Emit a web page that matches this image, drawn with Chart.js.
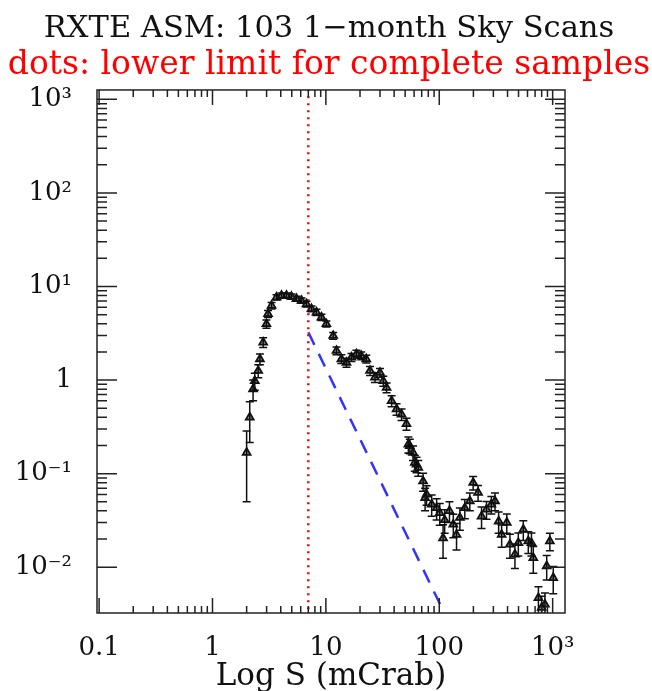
<!DOCTYPE html>
<html>
<head>
<meta charset="utf-8">
<title>RXTE ASM: 103 1-month Sky Scans</title>
<script src="https://cdn.jsdelivr.net/npm/chart.js@4.4.0/dist/chart.umd.min.js"></script>
<style>
  html, body { margin: 0; padding: 0; background: #fff; }
  #wrap { width: 652px; height: 691px; }
</style>
</head>
<body>
<div id="wrap"><canvas id="chart1"></canvas></div>
<script>
// flux bins (mCrab), source counts and 1-sigma errors
var fluxS = [2.0, 2.13, 2.28, 2.36, 2.53, 2.62, 2.80, 2.99, 3.09, 3.32,
             3.67, 4.06, 4.49, 4.97, 5.5, 6.1, 6.75, 7.47, 8.26, 9.14,
             10.1, 11.6, 12.4, 13.7, 15.2, 16.8, 18.6, 20.5, 22.7, 24.5,
             27.1, 30, 32.1, 34.3, 38, 42, 46.5, 51.4, 53.4, 55,
             58.7, 60.8, 63, 65.3, 72, 75, 77.3, 85.7, 94.8, 101,
             108, 111.6, 123, 133, 142, 152, 168, 186, 199, 220,
             236, 261, 288, 310, 334, 355, 394, 420, 465, 498,
             551, 610, 650, 675, 749, 800, 855, 886, 945, 1012];
var countsN = [0.168, 0.40, 0.80, 0.98, 1.26, 1.68, 2.53, 3.98, 5.1, 6.25,
               7.66, 8.0, 8.0, 7.8, 7.4, 7.07, 6.5, 5.77, 5.3, 4.69,
               3.98, 2.98, 2.06, 1.68, 1.54, 1.75, 1.9, 1.82, 1.68, 1.26,
               1.07, 1.2, 0.98, 0.83, 0.60, 0.49, 0.43, 0.34, 0.206, 0.198,
               0.168, 0.131, 0.126, 0.116, 0.083, 0.055, 0.060, 0.047, 0.043, 0.038,
               0.0205, 0.032, 0.040, 0.0287, 0.0223, 0.0338, 0.043, 0.051, 0.080, 0.0626,
               0.035, 0.0415, 0.047, 0.051, 0.031, 0.0223, 0.030, 0.0175, 0.0137, 0.0182,
               0.0253, 0.019, 0.0182, 0.0126, 0.0047, 0.0037, 0.0040, 0.0103, 0.019, 0.0077];
var countsErr = [0.118, 0.185, 0.20, 0.20, 0.20, 0.22, 0.30, 0.40, 0.45, 0.50,
                 0.50, 0.50, 0.50, 0.50, 0.45, 0.45, 0.45, 0.40, 0.40, 0.35,
                 0.30, 0.25, 0.20, 0.18, 0.17, 0.17, 0.18, 0.17, 0.16, 0.14,
                 0.13, 0.13, 0.12, 0.10, 0.08, 0.07, 0.06, 0.05, 0.04, 0.035,
                 0.03, 0.025, 0.024, 0.022, 0.018, 0.015, 0.014, 0.012, 0.011, 0.010,
                 0.008, 0.009, 0.010, 0.008, 0.007, 0.009, 0.010, 0.011, 0.013, 0.012,
                 0.009, 0.009, 0.010, 0.011, 0.008, 0.006, 0.007, 0.005, 0.004, 0.005,
                 0.006, 0.005, 0.005, 0.004, 0.0015, 0.0012, 0.0013, 0.003, 0.004, 0.0025];

// completeness limit (dotted) and S^-2.5 reference line (dashed)
var limitS = [7, 7];
var limitN = [0.003, 1300];
var slopeS = [7, 110];
var slopeN = [3.24, 0.0033];

var xTickVals = [0.1, 1, 10, 100, 1000];
var xTickLabels = ['0.1', '1', '10', '100', '10³'];
var yTickVals = [1000, 100, 10, 1, 0.1, 0.01];
var yTickLabels = ['10³', '10²', '10¹', '1', '10⁻¹', '10⁻²'];

function toPoints(xs, ys) {
    return xs.map(function(v, i) { return { x: v, y: ys[i] }; });
}

var serif = 'DejaVu Serif';

// error bars, drawn through the chart scales
var errorBars = {
    id: 'errorBars',
    beforeDatasetsDraw: function(chart) {
        var ctx = chart.ctx, xs = chart.scales.x, ys = chart.scales.y, a = chart.chartArea;
        ctx.save();
        ctx.beginPath();
        ctx.rect(a.left, a.top, a.right - a.left, a.bottom - a.top);
        ctx.clip();
        ctx.strokeStyle = '#111';
        ctx.lineWidth = 1.5;
        for (var i = 0; i < fluxS.length; i++) {
            var px = xs.getPixelForValue(fluxS[i]);
            var lo = countsN[i] - countsErr[i];
            var top = ys.getPixelForValue(countsN[i] + countsErr[i]);
            var bot = lo > 0 ? ys.getPixelForValue(lo) : a.bottom + 10;
            ctx.beginPath();
            ctx.moveTo(px, top); ctx.lineTo(px, bot);
            ctx.moveTo(px - 4, top); ctx.lineTo(px + 4, top);
            ctx.moveTo(px - 4, bot); ctx.lineTo(px + 4, bot);
            ctx.stroke();
        }
        ctx.restore();
    }
};

// box frame with inward ticks on all four sides
var frame = {
    id: 'frame',
    afterDraw: function(chart) {
        var ctx = chart.ctx, xs = chart.scales.x, ys = chart.scales.y, a = chart.chartArea;
        ctx.save();
        ctx.strokeStyle = '#222';
        ctx.lineWidth = 1.5;
        ctx.strokeRect(a.left, a.top, a.right - a.left, a.bottom - a.top);
        ctx.beginPath();
        for (var e = -2; e <= 3; e++) {
            for (var m = 1; m <= 9; m++) {
                var v = m * Math.pow(10, e);
                var px = xs.getPixelForValue(v);
                if (px > a.left + 0.5 && px < a.right - 0.5) {
                    var lx = m == 1 ? 15 : 7;
                    ctx.moveTo(px, a.bottom); ctx.lineTo(px, a.bottom - lx);
                    ctx.moveTo(px, a.top); ctx.lineTo(px, a.top + lx);
                }
                var py = ys.getPixelForValue(v);
                if (py > a.top + 0.5 && py < a.bottom - 0.5) {
                    var ly = m == 1 ? 20 : 10;
                    ctx.moveTo(a.left, py); ctx.lineTo(a.left + ly, py);
                    ctx.moveTo(a.right, py); ctx.lineTo(a.right - ly, py);
                }
            }
        }
        ctx.stroke();
        ctx.restore();
    }
};

var ctx = document.getElementById('chart1').getContext('2d');
var myChart = new Chart(ctx, {
    type: 'scatter',
    data: {
        datasets: [{
            label: 'counts',
            data: toPoints(fluxS, countsN),
            pointStyle: 'triangle',
            pointRadius: 4.5,
            borderWidth: 1.8,
            borderColor: '#111',
            backgroundColor: 'rgba(0,0,0,0.45)'
        },
        {
            label: 'limit',
            data: toPoints(limitS, limitN),
            showLine: true,
            borderColor: '#ff0000',
            borderWidth: 2.5,
            borderDash: [2, 5],
            pointRadius: 0
        },
        {
            label: 'slope',
            data: toPoints(slopeS, slopeN),
            showLine: true,
            borderColor: '#3333ff',
            borderWidth: 2.5,
            borderDash: [14, 10],
            pointRadius: 0
        }]
    },
    options: {
        responsive: true,
        maintainAspectRatio: false,
        animation: false,
        layout: {
            padding: { left: 6, right: 0, top: 0, bottom: 0 }
        },
        plugins: {
            legend: { display: false },
            tooltip: { enabled: false },
            title: {
                display: true,
                text: 'RXTE ASM: 103 1\u2212month Sky Scans',
                color: '#111',
                font: { family: serif, size: 30.5, weight: 'normal', lineHeight: 1.15 },
                padding: { top: 12, bottom: 0 }
            },
            subtitle: {
                display: true,
                text: 'dots: lower limit for complete samples',
                color: '#ff0000',
                font: { family: serif, size: 33, weight: 'normal', lineHeight: 1.1 },
                padding: { top: 0, bottom: 6.6 }
            }
        },
        scales: {
            x: {
                type: 'logarithmic',
                min: 0.0958,
                max: 1285,
                grid: { display: false },
                border: { display: false },
                afterBuildTicks: function(scale) {
                    scale.ticks = xTickVals.map(function(v) { return { value: v }; });
                },
                afterFit: function(scale) { scale.height = 78; },
                ticks: {
                    autoSkip: false,
                    maxRotation: 0,
                    padding: 12,
                    color: '#111',
                    font: { family: serif, size: 26 },
                    callback: function(value, index) { return xTickLabels[index]; }
                },
                title: {
                    display: true,
                    text: 'Log S (mCrab)',
                    color: '#111',
                    font: { family: serif, size: 31, lineHeight: 0.9 },
                    padding: { top: 0, bottom: 0 }
                }
            },
            y: {
                type: 'logarithmic',
                min: 0.00324,
                max: 1260,
                grid: { display: false },
                border: { display: false },
                afterBuildTicks: function(scale) {
                    scale.ticks = yTickVals.map(function(v) { return { value: v }; });
                },
                afterFit: function(scale) { scale.width = 91; },
                ticks: {
                    autoSkip: false,
                    padding: 17,
                    color: '#111',
                    font: { family: serif, size: 26 },
                    callback: function(value, index) { return yTickLabels[index]; }
                }
            },
            yRight: {
                type: 'linear',
                position: 'right',
                grid: { display: false },
                border: { display: false },
                ticks: { display: false },
                afterFit: function(scale) { scale.width = 87; }
            }
        }
    },
    plugins: [errorBars, frame]
});
</script>
</body>
</html>
